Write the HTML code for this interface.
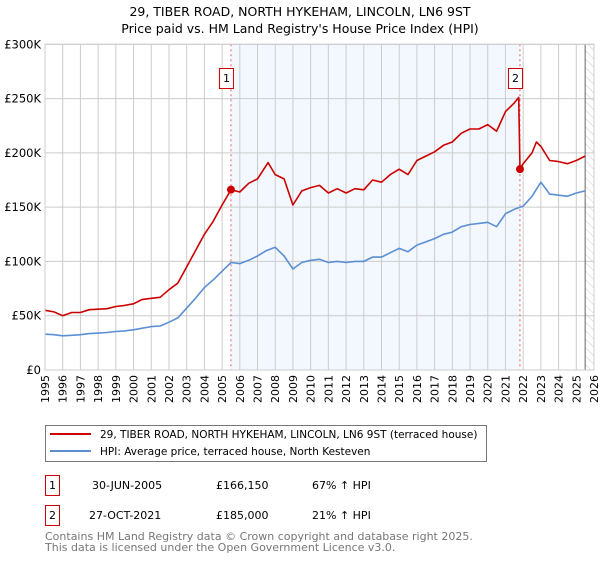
<!DOCTYPE html>
<html><head><meta charset="utf-8"><style>
body{margin:0;background:#fff;font-family:"DejaVu Sans","Liberation Sans",sans-serif}
svg text{font-family:"DejaVu Sans","Liberation Sans",sans-serif}
</style></head><body>
<svg id="chart" width="600" height="560" xmlns="http://www.w3.org/2000/svg">
<defs><pattern id="hatch" width="6" height="6" patternUnits="userSpaceOnUse" patternTransform="rotate(-45)"><line x1="0" y1="0" x2="0" y2="6" stroke="#ccc" stroke-width="1"/></pattern></defs>
<text x="300" y="16" text-anchor="middle" font-size="12.5">29, TIBER ROAD, NORTH HYKEHAM, LINCOLN, LN6 9ST</text>
<text x="300" y="33" text-anchor="middle" font-size="12.5">Price paid vs. HM Land Registry's House Price Index (HPI)</text>
<g id="plot"></g>
<g>
<rect x="45.5" y="425.5" width="441" height="36" fill="#fff" stroke="#777"/>
<line x1="50" y1="434" x2="91" y2="434" stroke="#cc0000" stroke-width="2"/>
<text x="100" y="438" font-size="10.5">29, TIBER ROAD, NORTH HYKEHAM, LINCOLN, LN6 9ST (terraced house)</text>
<line x1="50" y1="451" x2="91" y2="451" stroke="#5b8fd4" stroke-width="2"/>
<text x="100" y="455" font-size="10.5">HPI: Average price, terraced house, North Kesteven</text>
</g>
<g font-size="11">
<rect x="45.5" y="475.5" width="14" height="20" fill="none" stroke="#cc0000"/>
<text x="52.5" y="489" text-anchor="middle">1</text>
<text x="92" y="489">30-JUN-2005</text><text x="216" y="489">£166,150</text><text x="312" y="489">67% ↑ HPI</text>
<rect x="45.5" y="505.5" width="14" height="20" fill="none" stroke="#cc0000"/>
<text x="52.5" y="519" text-anchor="middle">2</text>
<text x="89" y="519">27-OCT-2021</text><text x="216" y="519">£185,000</text><text x="312" y="519">21% ↑ HPI</text>
</g>
<text x="45" y="540" font-size="11" fill="#777">Contains HM Land Registry data © Crown copyright and database right 2025.</text>
<text x="45" y="551" font-size="11" fill="#777">This data is licensed under the Open Government Licence v3.0.</text>
</svg>
<script>
const yearTicks=[1995,1996,1997,1998,1999,2000,2001,2002,2003,2004,2005,2006,2007,2008,2009,2010,2011,2012,2013,2014,2015,2016,2017,2018,2019,2020,2021,2022,2023,2024,2025,2026];
const valueTicks=[0,50000,100000,150000,200000,250000,300000];
const valueTickLabels=["£0","£50K","£100K","£150K","£200K","£250K","£300K"];
const hpiYears=[1995,1995.5,1996,1996.5,1997,1997.5,1998,1998.5,1999,1999.5,2000,2000.5,2001,2001.5,2002,2002.5,2003,2003.5,2004,2004.5,2005,2005.5,2006,2006.5,2007,2007.5,2008,2008.5,2009,2009.5,2010,2010.5,2011,2011.5,2012,2012.5,2013,2013.5,2014,2014.5,2015,2015.5,2016,2016.5,2017,2017.5,2018,2018.5,2019,2019.5,2020,2020.5,2021,2021.5,2022,2022.5,2023,2023.5,2024,2024.5,2025,2025.5];
const hpiValues=[33,32.5,31.5,32,32.5,33.5,34,34.5,35.5,36,37,38.5,40,40.5,44,48,57,66,76,83,91,99,98,101,105,110,113,105,93,99,101,102,99,100,99,100,100,104,104,108,112,109,115,118,121,125,127,132,134,135,136,132,144,148,151,160,173,162,161,160,163,165];
const priceYears=[1995,1995.5,1996,1996.5,1997,1997.5,1998,1998.5,1999,1999.5,2000,2000.5,2001,2001.5,2002,2002.5,2003,2003.5,2004,2004.5,2005,2005.5,2006,2006.5,2007,2007.6,2008,2008.5,2009,2009.5,2010,2010.5,2011,2011.5,2012,2012.5,2013,2013.5,2014,2014.5,2015,2015.5,2016,2016.5,2017,2017.5,2018,2018.5,2019,2019.5,2020,2020.5,2021,2021.5,2021.75,2021.82,2022,2022.5,2022.75,2023,2023.5,2024,2024.5,2025,2025.5];
const priceValues=[55,53.5,50,53,53,55.5,56,56.5,58.5,59.5,61,65,66,67,74,80,95,110,125,137,152,166,164,172,176,191,180,176,152,165,168,170,163,167,163,167,166,175,173,180,185,180,193,197,201,207,210,218,222,222,226,220,238,246,251,185,190,200,210,206,193,192,190,193,197];
const saleYears=[2005.5,2021.82];
const saleValues=[166150,185000];
const saleLabels=["1","2"];
const NS="http://www.w3.org/2000/svg";
const L=45,R=594,T=44.3,B=370;
const xs=y=>L+(y-1995)*(R-L)/31;
const ys=v=>B-v*(B-T)/300000;
const g=document.getElementById('plot');
function mk(t,a,p){const e=document.createElementNS(NS,t);for(const k in a)e.setAttribute(k,a[k]);(p||g).appendChild(e);return e;}
let r=mk('rect',{x:xs(saleYears[0]),y:T,width:xs(saleYears[1])-xs(saleYears[0]),height:B-T,fill:'#eef3fd',opacity:0.7});


let h=mk('rect',{x:xs(2025.5),y:T,width:R-xs(2025.5),height:B-T,fill:'url(#hatch)'});


yearTicks.forEach(y=>{const l=mk('line',{x1:xs(y),x2:xs(y),y1:T,y2:B,stroke:'#ccc'});


const t=mk('text',{x:0,y:0,'font-size':'11','text-anchor':'end',transform:`translate(${xs(y)+4},${B+5}) rotate(-90)`});
t.textContent=y;

});
valueTicks.forEach((v,i)=>{const l=mk('line',{x1:L,x2:R,y1:ys(v),y2:ys(v),stroke:'#ccc'});


const t=mk('text',{x:L-4,y:ys(v)+4,'font-size':'11.5','text-anchor':'end'});
t.textContent=valueTickLabels[i];

});
let v=mk('line',{x1:xs(2025.5),x2:xs(2025.5),y1:T,y2:B,stroke:'#666'});


saleYears.forEach(y=>{const l=mk('line',{x1:xs(y),x2:xs(y),y1:T,y2:B,stroke:'#e06060','stroke-dasharray':'2,3'});

});
function path(xa,va,col,name){const d=xa.map((y,i)=>(i?'L':'M')+xs(y).toFixed(1)+','+ys(va[i]*1000).toFixed(1)).join('');
const p=mk('path',{d:d,fill:'none',stroke:col,'stroke-width':1.6,'stroke-linejoin':'round'});

}
path(hpiYears,hpiValues,'#5b8fd4','hpi-line');
path(priceYears,priceValues,'#cc0000','price-line');
saleYears.forEach((y,i)=>{const c=mk('circle',{cx:xs(y),cy:ys(saleValues[i]),r:4,fill:'#cc0000'});


const bx=mk('rect',{x:xs(y)-11.5,y:68.5,width:14,height:20,fill:'#fff',stroke:'#cc0000'});


const t=mk('text',{x:xs(y)-4.5,y:82,'font-size':'11','text-anchor':'middle'});
t.textContent=saleLabels[i];

});
let fr=mk('rect',{x:L,y:T,width:R-L,height:B-T,fill:'none',stroke:'#ccc'});


</script>
</body></html>
